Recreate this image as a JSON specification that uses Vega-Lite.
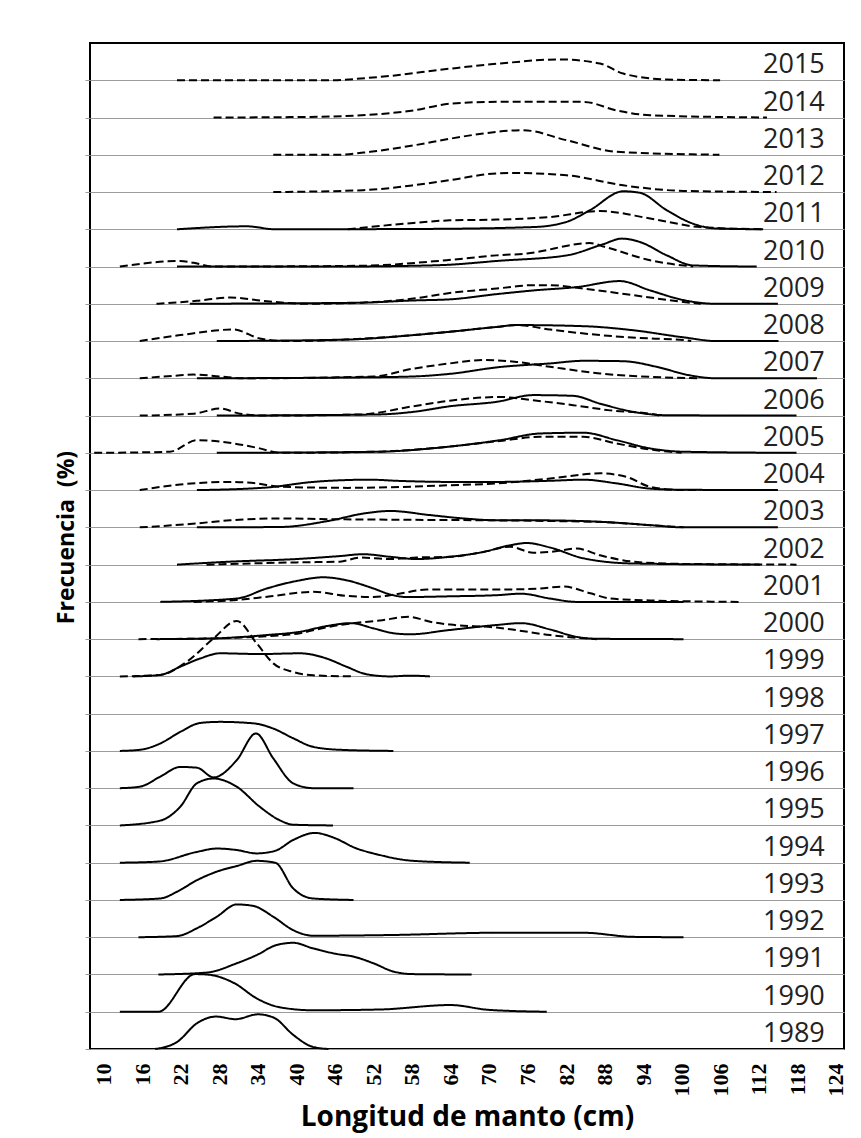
{
"$schema":"https://vega.github.io/schema/vega-lite/v6.json",
"width":754,"height":1006,
"autosize":"none",
"padding":{"left":90,"top":43,"right":17,"bottom":89},
"background":"white",
"config":{"view":{"stroke":"black","strokeWidth":2},"font":"Open Sans"},
"encoding":{
"y":{"field":"anio","type":"ordinal","scale":{"type":"point","padding":0,"domain":[2016,2015,2014,2013,2012,2011,2010,2009,2008,2007,2006,2005,2004,2003,2002,2001,2000,1999,1998,1997,1996,1995,1994,1993,1992,1991,1990,1989]},
"axis":{"values":[2015,2014,2013,2012,2011,2010,2009,2008,2007,2006,2005,2004,2003,2002,2001,2000,1999,1998,1997,1996,1995,1994,1993,1992,1991,1990,1989],"labels":false,"ticks":true,"tickSize":5,"tickColor":"#999999","domain":false,"grid":true,"gridColor":"#9c9c9c","gridWidth":1,"title":"Frecuencia\u00a0 (%)","titleFont":"Open Sans","titleFontWeight":"bold","titleFontSize":23,"titleColor":"black","titlePadding":6,"titleY":494}}
},
"layer":[
{
"data":{"values":[
{"anio":1989,"serie":"continua","longitud":18,"frecuencia":0},{"anio":1989,"serie":"continua","longitud":21.5,"frecuencia":2.0},{"anio":1989,"serie":"continua","longitud":24.5,"frecuencia":6.9},{"anio":1989,"serie":"continua","longitud":27.5,"frecuencia":8.7},{"anio":1989,"serie":"continua","longitud":30.5,"frecuencia":8.0},{"anio":1989,"serie":"continua","longitud":34,"frecuencia":9.3},{"anio":1989,"serie":"continua","longitud":36.5,"frecuencia":8.4},{"anio":1989,"serie":"continua","longitud":39.5,"frecuencia":3.8},{"anio":1989,"serie":"continua","longitud":42.5,"frecuencia":0.6},{"anio":1989,"serie":"continua","longitud":45,"frecuencia":0},
{"anio":1990,"serie":"continua","longitud":12.5,"frecuencia":0},{"anio":1990,"serie":"continua","longitud":18.5,"frecuencia":0},{"anio":1990,"serie":"continua","longitud":24.2,"frecuencia":10.1},{"anio":1990,"serie":"continua","longitud":26,"frecuencia":10.0},{"anio":1990,"serie":"continua","longitud":30.4,"frecuencia":7.6},{"anio":1990,"serie":"continua","longitud":33.8,"frecuencia":3.6},{"anio":1990,"serie":"continua","longitud":37.4,"frecuencia":1.2},{"anio":1990,"serie":"continua","longitud":42.6,"frecuencia":0.4},{"anio":1990,"serie":"continua","longitud":53,"frecuencia":0.6},{"anio":1990,"serie":"continua","longitud":64,"frecuencia":1.8},{"anio":1990,"serie":"continua","longitud":70,"frecuencia":0.5},{"anio":1990,"serie":"continua","longitud":79,"frecuencia":0},
{"anio":1991,"serie":"continua","longitud":18.5,"frecuencia":0},{"anio":1991,"serie":"continua","longitud":26,"frecuencia":0.5},{"anio":1991,"serie":"continua","longitud":30.7,"frecuencia":3.0},{"anio":1991,"serie":"continua","longitud":33.8,"frecuencia":5.2},{"anio":1991,"serie":"continua","longitud":36.9,"frecuencia":7.9},{"anio":1991,"serie":"continua","longitud":39.5,"frecuencia":8.5},{"anio":1991,"serie":"continua","longitud":42.6,"frecuencia":7.0},{"anio":1991,"serie":"continua","longitud":46.3,"frecuencia":5.5},{"anio":1991,"serie":"continua","longitud":48.9,"frecuencia":4.8},{"anio":1991,"serie":"continua","longitud":52,"frecuencia":3.0},{"anio":1991,"serie":"continua","longitud":55.1,"frecuencia":0.8},{"anio":1991,"serie":"continua","longitud":58.2,"frecuencia":0.1},{"anio":1991,"serie":"continua","longitud":67.3,"frecuencia":0},
{"anio":1992,"serie":"continua","longitud":15.4,"frecuencia":0},{"anio":1992,"serie":"continua","longitud":21.4,"frecuencia":0.3},{"anio":1992,"serie":"continua","longitud":24.5,"frecuencia":2.4},{"anio":1992,"serie":"continua","longitud":27.6,"frecuencia":5.5},{"anio":1992,"serie":"continua","longitud":30.7,"frecuencia":8.8},{"anio":1992,"serie":"continua","longitud":33.3,"frecuencia":8.4},{"anio":1992,"serie":"continua","longitud":36.4,"frecuencia":5.5},{"anio":1992,"serie":"continua","longitud":39.5,"frecuencia":1.9},{"anio":1992,"serie":"continua","longitud":42.6,"frecuencia":0.4},{"anio":1992,"serie":"continua","longitud":55,"frecuencia":0.6},{"anio":1992,"serie":"continua","longitud":71.2,"frecuencia":1.2},{"anio":1992,"serie":"continua","longitud":84.7,"frecuencia":1.2},{"anio":1992,"serie":"continua","longitud":92.5,"frecuencia":0.1},{"anio":1992,"serie":"continua","longitud":100.3,"frecuencia":0},
{"anio":1993,"serie":"continua","longitud":12.5,"frecuencia":0},{"anio":1993,"serie":"continua","longitud":18.8,"frecuencia":0.4},{"anio":1993,"serie":"continua","longitud":21.4,"frecuencia":2.2},{"anio":1993,"serie":"continua","longitud":24.5,"frecuencia":5.3},{"anio":1993,"serie":"continua","longitud":27.6,"frecuencia":7.6},{"anio":1993,"serie":"continua","longitud":30.7,"frecuencia":9.1},{"anio":1993,"serie":"continua","longitud":33.8,"frecuencia":10.5},{"anio":1993,"serie":"continua","longitud":36.7,"frecuencia":10.0},{"anio":1993,"serie":"continua","longitud":39.5,"frecuencia":3.1},{"anio":1993,"serie":"continua","longitud":42.6,"frecuencia":0.4},{"anio":1993,"serie":"continua","longitud":48.9,"frecuencia":0},
{"anio":1994,"serie":"continua","longitud":12.5,"frecuencia":0},{"anio":1994,"serie":"continua","longitud":18.5,"frecuencia":0.3},{"anio":1994,"serie":"continua","longitud":24.5,"frecuencia":2.9},{"anio":1994,"serie":"continua","longitud":27.6,"frecuencia":3.8},{"anio":1994,"serie":"continua","longitud":30.7,"frecuencia":3.4},{"anio":1994,"serie":"continua","longitud":33.8,"frecuencia":2.5},{"anio":1994,"serie":"continua","longitud":36.7,"frecuencia":3.2},{"anio":1994,"serie":"continua","longitud":39.5,"frecuencia":6.1},{"anio":1994,"serie":"continua","longitud":42.9,"frecuencia":8.0},{"anio":1994,"serie":"continua","longitud":45.7,"frecuencia":6.8},{"anio":1994,"serie":"continua","longitud":49.4,"frecuencia":3.8},{"anio":1994,"serie":"continua","longitud":52,"frecuencia":2.5},{"anio":1994,"serie":"continua","longitud":58.2,"frecuencia":0.5},{"anio":1994,"serie":"continua","longitud":67,"frecuencia":0},
{"anio":1995,"serie":"continua","longitud":12.5,"frecuencia":0},{"anio":1995,"serie":"continua","longitud":18.8,"frecuencia":1.3},{"anio":1995,"serie":"continua","longitud":21.9,"frecuencia":5.0},{"anio":1995,"serie":"continua","longitud":24.5,"frecuencia":11.3},{"anio":1995,"serie":"continua","longitud":27.1,"frecuencia":12.6},{"anio":1995,"serie":"continua","longitud":30.7,"frecuencia":10.4},{"anio":1995,"serie":"continua","longitud":34.3,"frecuencia":5.0},{"anio":1995,"serie":"continua","longitud":37.4,"frecuencia":1.4},{"anio":1995,"serie":"continua","longitud":39.5,"frecuencia":0.2},{"anio":1995,"serie":"continua","longitud":45.7,"frecuencia":0},
{"anio":1996,"serie":"continua","longitud":12.5,"frecuencia":0},{"anio":1996,"serie":"continua","longitud":15.6,"frecuencia":0.4},{"anio":1996,"serie":"continua","longitud":18.8,"frecuencia":3.1},{"anio":1996,"serie":"continua","longitud":21.9,"frecuencia":5.7},{"anio":1996,"serie":"continua","longitud":24.5,"frecuencia":5.5},{"anio":1996,"serie":"continua","longitud":27.1,"frecuencia":2.9},{"anio":1996,"serie":"continua","longitud":30.7,"frecuencia":7.5},{"anio":1996,"serie":"continua","longitud":33.7,"frecuencia":14.7},{"anio":1996,"serie":"continua","longitud":36.4,"frecuencia":8.0},{"anio":1996,"serie":"continua","longitud":39.5,"frecuencia":1.3},{"anio":1996,"serie":"continua","longitud":42.6,"frecuencia":0},{"anio":1996,"serie":"continua","longitud":48.9,"frecuencia":0},
{"anio":1997,"serie":"continua","longitud":12.5,"frecuencia":0},{"anio":1997,"serie":"continua","longitud":15.6,"frecuencia":0.3},{"anio":1997,"serie":"continua","longitud":18.8,"frecuencia":2.0},{"anio":1997,"serie":"continua","longitud":21.9,"frecuencia":5.1},{"anio":1997,"serie":"continua","longitud":25,"frecuencia":7.5},{"anio":1997,"serie":"continua","longitud":28.1,"frecuencia":7.8},{"anio":1997,"serie":"continua","longitud":33.3,"frecuencia":7.4},{"anio":1997,"serie":"continua","longitud":36.4,"frecuencia":6.0},{"anio":1997,"serie":"continua","longitud":39.5,"frecuencia":3.4},{"anio":1997,"serie":"continua","longitud":42.6,"frecuencia":1.1},{"anio":1997,"serie":"continua","longitud":46.8,"frecuencia":0.3},{"anio":1997,"serie":"continua","longitud":55.1,"frecuencia":0},
{"anio":1999,"serie":"continua","longitud":14.6,"frecuencia":0},{"anio":1999,"serie":"continua","longitud":18.8,"frecuencia":0.4},{"anio":1999,"serie":"continua","longitud":21.9,"frecuencia":2.6},{"anio":1999,"serie":"continua","longitud":25,"frecuencia":4.8},{"anio":1999,"serie":"continua","longitud":28.1,"frecuencia":6.2},{"anio":1999,"serie":"continua","longitud":34.3,"frecuencia":6.0},{"anio":1999,"serie":"continua","longitud":40.6,"frecuencia":6.2},{"anio":1999,"serie":"continua","longitud":44.7,"frecuencia":4.8},{"anio":1999,"serie":"continua","longitud":47.8,"frecuencia":2.6},{"anio":1999,"serie":"continua","longitud":50.9,"frecuencia":0.6},{"anio":1999,"serie":"continua","longitud":54.6,"frecuencia":0},{"anio":1999,"serie":"continua","longitud":57.7,"frecuencia":0.2},{"anio":1999,"serie":"continua","longitud":60.8,"frecuencia":0},
{"anio":1999,"serie":"discontinua","longitud":12.5,"frecuencia":0},{"anio":1999,"serie":"discontinua","longitud":18.8,"frecuencia":0.4},{"anio":1999,"serie":"discontinua","longitud":22.9,"frecuencia":3.9},{"anio":1999,"serie":"discontinua","longitud":27.1,"frecuencia":10.2},{"anio":1999,"serie":"discontinua","longitud":30.7,"frecuencia":14.9},{"anio":1999,"serie":"discontinua","longitud":33.8,"frecuencia":8.9},{"anio":1999,"serie":"discontinua","longitud":36.4,"frecuencia":3.5},{"anio":1999,"serie":"discontinua","longitud":39.5,"frecuencia":1.2},{"anio":1999,"serie":"discontinua","longitud":42.6,"frecuencia":0.3},{"anio":1999,"serie":"discontinua","longitud":48.9,"frecuencia":0},
{"anio":2000,"serie":"continua","longitud":18.2,"frecuencia":0},{"anio":2000,"serie":"continua","longitud":27.1,"frecuencia":0.2},{"anio":2000,"serie":"continua","longitud":35.4,"frecuencia":1.1},{"anio":2000,"serie":"continua","longitud":40.6,"frecuencia":2.0},{"anio":2000,"serie":"continua","longitud":44.7,"frecuencia":3.5},{"anio":2000,"serie":"continua","longitud":48.5,"frecuencia":4.3},{"anio":2000,"serie":"continua","longitud":52,"frecuencia":2.9},{"anio":2000,"serie":"continua","longitud":55.1,"frecuencia":1.6},{"anio":2000,"serie":"continua","longitud":57.7,"frecuencia":1.3},{"anio":2000,"serie":"continua","longitud":63.6,"frecuencia":2.4},{"anio":2000,"serie":"continua","longitud":71.2,"frecuencia":3.8},{"anio":2000,"serie":"continua","longitud":75,"frecuencia":4.3},{"anio":2000,"serie":"continua","longitud":79.5,"frecuencia":2.6},{"anio":2000,"serie":"continua","longitud":83.7,"frecuencia":0.6},{"anio":2000,"serie":"continua","longitud":86.8,"frecuencia":0.1},{"anio":2000,"serie":"continua","longitud":100.3,"frecuencia":0},
{"anio":2000,"serie":"discontinua","longitud":15.4,"frecuencia":0},{"anio":2000,"serie":"discontinua","longitud":27,"frecuencia":0.2},{"anio":2000,"serie":"discontinua","longitud":35.4,"frecuencia":0.8},{"anio":2000,"serie":"discontinua","longitud":40.6,"frecuencia":1.6},{"anio":2000,"serie":"discontinua","longitud":44.7,"frecuencia":3.2},{"anio":2000,"serie":"discontinua","longitud":48.9,"frecuencia":4.3},{"anio":2000,"serie":"discontinua","longitud":53,"frecuencia":5.0},{"anio":2000,"serie":"discontinua","longitud":57.5,"frecuencia":6.0},{"anio":2000,"serie":"discontinua","longitud":61,"frecuencia":4.6},{"anio":2000,"serie":"discontinua","longitud":64,"frecuencia":3.9},{"anio":2000,"serie":"discontinua","longitud":71.2,"frecuencia":3.1},{"anio":2000,"serie":"discontinua","longitud":74.3,"frecuencia":2.4},{"anio":2000,"serie":"discontinua","longitud":79.5,"frecuencia":1.1},{"anio":2000,"serie":"discontinua","longitud":85.8,"frecuencia":0.1},{"anio":2000,"serie":"discontinua","longitud":86.8,"frecuencia":0},
{"anio":2001,"serie":"continua","longitud":18.8,"frecuencia":0},{"anio":2001,"serie":"continua","longitud":30.7,"frecuencia":0.9},{"anio":2001,"serie":"continua","longitud":35.4,"frecuencia":3.6},{"anio":2001,"serie":"continua","longitud":40,"frecuencia":5.6},{"anio":2001,"serie":"continua","longitud":44.2,"frecuencia":6.6},{"anio":2001,"serie":"continua","longitud":47.8,"frecuencia":5.8},{"anio":2001,"serie":"continua","longitud":52,"frecuencia":3.6},{"anio":2001,"serie":"continua","longitud":54.6,"frecuencia":2.0},{"anio":2001,"serie":"continua","longitud":57.2,"frecuencia":1.3},{"anio":2001,"serie":"continua","longitud":64,"frecuencia":1.5},{"anio":2001,"serie":"continua","longitud":71.2,"frecuencia":1.8},{"anio":2001,"serie":"continua","longitud":75,"frecuencia":2.2},{"anio":2001,"serie":"continua","longitud":79.5,"frecuencia":0.9},{"anio":2001,"serie":"continua","longitud":83.7,"frecuencia":0},{"anio":2001,"serie":"continua","longitud":100.3,"frecuencia":0},
{"anio":2001,"serie":"discontinua","longitud":24,"frecuencia":0},{"anio":2001,"serie":"discontinua","longitud":30.7,"frecuencia":0.5},{"anio":2001,"serie":"discontinua","longitud":36,"frecuencia":1.5},{"anio":2001,"serie":"discontinua","longitud":42.6,"frecuencia":2.7},{"anio":2001,"serie":"discontinua","longitud":47.8,"frecuencia":1.6},{"anio":2001,"serie":"discontinua","longitud":52,"frecuencia":1.3},{"anio":2001,"serie":"discontinua","longitud":56,"frecuencia":2.2},{"anio":2001,"serie":"discontinua","longitud":60.3,"frecuencia":3.3},{"anio":2001,"serie":"discontinua","longitud":71.2,"frecuencia":3.3},{"anio":2001,"serie":"discontinua","longitud":78,"frecuencia":3.6},{"anio":2001,"serie":"discontinua","longitud":81.6,"frecuencia":4.1},{"anio":2001,"serie":"discontinua","longitud":85.8,"frecuencia":2.3},{"anio":2001,"serie":"discontinua","longitud":88.9,"frecuencia":0.9},{"anio":2001,"serie":"discontinua","longitud":95.1,"frecuencia":0.4},{"anio":2001,"serie":"discontinua","longitud":109,"frecuencia":0},
{"anio":2002,"serie":"continua","longitud":21.4,"frecuencia":0},{"anio":2002,"serie":"continua","longitud":29.7,"frecuencia":0.8},{"anio":2002,"serie":"continua","longitud":40,"frecuencia":1.5},{"anio":2002,"serie":"continua","longitud":46.8,"frecuencia":2.3},{"anio":2002,"serie":"continua","longitud":50.4,"frecuencia":2.8},{"anio":2002,"serie":"continua","longitud":54.6,"frecuencia":2.1},{"anio":2002,"serie":"continua","longitud":58.7,"frecuencia":1.5},{"anio":2002,"serie":"continua","longitud":63.9,"frecuencia":2.1},{"anio":2002,"serie":"continua","longitud":69.1,"frecuencia":3.4},{"anio":2002,"serie":"continua","longitud":73.3,"frecuencia":5.2},{"anio":2002,"serie":"continua","longitud":75.9,"frecuencia":5.8},{"anio":2002,"serie":"continua","longitud":79.5,"frecuencia":4.6},{"anio":2002,"serie":"continua","longitud":84.7,"frecuencia":1.7},{"anio":2002,"serie":"continua","longitud":92.5,"frecuencia":0.3},{"anio":2002,"serie":"continua","longitud":112.2,"frecuencia":0},
{"anio":2002,"serie":"discontinua","longitud":26,"frecuencia":0},{"anio":2002,"serie":"discontinua","longitud":40,"frecuencia":0.6},{"anio":2002,"serie":"discontinua","longitud":46.8,"frecuencia":0.8},{"anio":2002,"serie":"discontinua","longitud":49.9,"frecuencia":1.9},{"anio":2002,"serie":"discontinua","longitud":54.6,"frecuencia":1.5},{"anio":2002,"serie":"discontinua","longitud":58.7,"frecuencia":1.9},{"anio":2002,"serie":"discontinua","longitud":63.9,"frecuencia":2.1},{"anio":2002,"serie":"discontinua","longitud":69.1,"frecuencia":3.4},{"anio":2002,"serie":"discontinua","longitud":73.3,"frecuencia":4.8},{"anio":2002,"serie":"discontinua","longitud":76.9,"frecuencia":3.2},{"anio":2002,"serie":"discontinua","longitud":79.5,"frecuencia":3.4},{"anio":2002,"serie":"discontinua","longitud":83.7,"frecuencia":4.3},{"anio":2002,"serie":"discontinua","longitud":87.3,"frecuencia":2.5},{"anio":2002,"serie":"discontinua","longitud":92.5,"frecuencia":0.8},{"anio":2002,"serie":"discontinua","longitud":100,"frecuencia":0.2},{"anio":2002,"serie":"discontinua","longitud":117.9,"frecuencia":0},
{"anio":2003,"serie":"continua","longitud":24.5,"frecuencia":0},{"anio":2003,"serie":"continua","longitud":37.4,"frecuencia":0.1},{"anio":2003,"serie":"continua","longitud":45.2,"frecuencia":1.8},{"anio":2003,"serie":"continua","longitud":50.4,"frecuencia":3.7},{"anio":2003,"serie":"continua","longitud":54.6,"frecuencia":4.4},{"anio":2003,"serie":"continua","longitud":60.8,"frecuencia":3.3},{"anio":2003,"serie":"continua","longitud":66,"frecuencia":2.4},{"anio":2003,"serie":"continua","longitud":71.2,"frecuencia":1.9},{"anio":2003,"serie":"continua","longitud":77,"frecuencia":1.9},{"anio":2003,"serie":"continua","longitud":87.3,"frecuencia":1.5},{"anio":2003,"serie":"continua","longitud":95.1,"frecuencia":0.6},{"anio":2003,"serie":"continua","longitud":100.3,"frecuencia":0},{"anio":2003,"serie":"continua","longitud":115,"frecuencia":0},
{"anio":2003,"serie":"discontinua","longitud":15.6,"frecuencia":0},{"anio":2003,"serie":"discontinua","longitud":23.4,"frecuencia":0.9},{"anio":2003,"serie":"discontinua","longitud":29.7,"frecuencia":1.9},{"anio":2003,"serie":"discontinua","longitud":37.4,"frecuencia":2.4},{"anio":2003,"serie":"discontinua","longitud":45,"frecuencia":2.2},{"anio":2003,"serie":"discontinua","longitud":52,"frecuencia":2.1},{"anio":2003,"serie":"discontinua","longitud":60,"frecuencia":2.0},{"anio":2003,"serie":"discontinua","longitud":70,"frecuencia":1.9},{"anio":2003,"serie":"discontinua","longitud":80,"frecuencia":1.7},{"anio":2003,"serie":"discontinua","longitud":88,"frecuencia":1.4},{"anio":2003,"serie":"discontinua","longitud":95.1,"frecuencia":0.6},{"anio":2003,"serie":"discontinua","longitud":100.3,"frecuencia":0},
{"anio":2004,"serie":"continua","longitud":24.5,"frecuencia":0},{"anio":2004,"serie":"continua","longitud":35.4,"frecuencia":0.7},{"anio":2004,"serie":"continua","longitud":42.6,"frecuencia":2.2},{"anio":2004,"serie":"continua","longitud":51.5,"frecuencia":2.8},{"anio":2004,"serie":"continua","longitud":55.6,"frecuencia":2.5},{"anio":2004,"serie":"continua","longitud":63.9,"frecuencia":2.2},{"anio":2004,"serie":"continua","longitud":71.2,"frecuencia":2.2},{"anio":2004,"serie":"continua","longitud":79.5,"frecuencia":2.5},{"anio":2004,"serie":"continua","longitud":84.7,"frecuencia":2.8},{"anio":2004,"serie":"continua","longitud":89.9,"frecuencia":1.8},{"anio":2004,"serie":"continua","longitud":95.1,"frecuencia":0.4},{"anio":2004,"serie":"continua","longitud":100,"frecuencia":0.1},{"anio":2004,"serie":"continua","longitud":115,"frecuencia":0},
{"anio":2004,"serie":"discontinua","longitud":15.6,"frecuencia":0},{"anio":2004,"serie":"discontinua","longitud":21.9,"frecuencia":1.5},{"anio":2004,"serie":"discontinua","longitud":29.7,"frecuencia":2.2},{"anio":2004,"serie":"discontinua","longitud":33.8,"frecuencia":1.8},{"anio":2004,"serie":"discontinua","longitud":37.4,"frecuencia":0.9},{"anio":2004,"serie":"discontinua","longitud":48,"frecuencia":0.6},{"anio":2004,"serie":"discontinua","longitud":63.9,"frecuencia":1.3},{"anio":2004,"serie":"discontinua","longitud":71.2,"frecuencia":1.8},{"anio":2004,"serie":"discontinua","longitud":79.5,"frecuencia":3.1},{"anio":2004,"serie":"discontinua","longitud":87.3,"frecuencia":4.5},{"anio":2004,"serie":"discontinua","longitud":91.5,"frecuencia":3.5},{"anio":2004,"serie":"discontinua","longitud":95.1,"frecuencia":0.9},{"anio":2004,"serie":"discontinua","longitud":100.3,"frecuencia":0},{"anio":2004,"serie":"discontinua","longitud":103,"frecuencia":0},
{"anio":2005,"serie":"continua","longitud":27.6,"frecuencia":0},{"anio":2005,"serie":"continua","longitud":52.6,"frecuencia":0.3},{"anio":2005,"serie":"continua","longitud":63.4,"frecuencia":1.6},{"anio":2005,"serie":"continua","longitud":71.7,"frecuencia":3.4},{"anio":2005,"serie":"continua","longitud":78,"frecuencia":5.2},{"anio":2005,"serie":"continua","longitud":84.7,"frecuencia":5.4},{"anio":2005,"serie":"continua","longitud":89.9,"frecuencia":3.4},{"anio":2005,"serie":"continua","longitud":95.1,"frecuencia":1.2},{"anio":2005,"serie":"continua","longitud":100.3,"frecuencia":0.3},{"anio":2005,"serie":"continua","longitud":117.9,"frecuencia":0},
{"anio":2005,"serie":"discontinua","longitud":8.5,"frecuencia":0},{"anio":2005,"serie":"discontinua","longitud":20.3,"frecuencia":0.3},{"anio":2005,"serie":"discontinua","longitud":24.5,"frecuencia":3.4},{"anio":2005,"serie":"discontinua","longitud":28.1,"frecuencia":3.0},{"anio":2005,"serie":"discontinua","longitud":34.3,"frecuencia":1.2},{"anio":2005,"serie":"discontinua","longitud":37.4,"frecuencia":0},{"anio":2005,"serie":"discontinua","longitud":52.6,"frecuencia":0.3},{"anio":2005,"serie":"discontinua","longitud":63.4,"frecuencia":1.6},{"anio":2005,"serie":"discontinua","longitud":71.7,"frecuencia":3.2},{"anio":2005,"serie":"discontinua","longitud":78,"frecuencia":4.3},{"anio":2005,"serie":"discontinua","longitud":84.7,"frecuencia":4.3},{"anio":2005,"serie":"discontinua","longitud":89.9,"frecuencia":2.5},{"anio":2005,"serie":"discontinua","longitud":95.1,"frecuencia":0.9},{"anio":2005,"serie":"discontinua","longitud":98.2,"frecuencia":0.3},{"anio":2005,"serie":"discontinua","longitud":100,"frecuencia":0},
{"anio":2006,"serie":"continua","longitud":27.6,"frecuencia":0},{"anio":2006,"serie":"continua","longitud":52.6,"frecuencia":0.3},{"anio":2006,"serie":"continua","longitud":58.2,"frecuencia":1.0},{"anio":2006,"serie":"continua","longitud":63.9,"frecuencia":2.5},{"anio":2006,"serie":"continua","longitud":71.2,"frecuencia":3.7},{"anio":2006,"serie":"continua","longitud":76.9,"frecuencia":5.5},{"anio":2006,"serie":"continua","longitud":83.1,"frecuencia":5.3},{"anio":2006,"serie":"continua","longitud":87.3,"frecuencia":3.2},{"anio":2006,"serie":"continua","longitud":92.5,"frecuencia":1.0},{"anio":2006,"serie":"continua","longitud":97.7,"frecuencia":0.1},{"anio":2006,"serie":"continua","longitud":117.9,"frecuencia":0},
{"anio":2006,"serie":"discontinua","longitud":15.6,"frecuencia":0},{"anio":2006,"serie":"discontinua","longitud":24,"frecuencia":0.5},{"anio":2006,"serie":"discontinua","longitud":28.1,"frecuencia":1.9},{"anio":2006,"serie":"discontinua","longitud":31.2,"frecuencia":0.5},{"anio":2006,"serie":"discontinua","longitud":35,"frecuencia":0},{"anio":2006,"serie":"discontinua","longitud":50,"frecuencia":0.3},{"anio":2006,"serie":"discontinua","longitud":58.2,"frecuencia":2.5},{"anio":2006,"serie":"discontinua","longitud":63.9,"frecuencia":4.0},{"anio":2006,"serie":"discontinua","longitud":71.7,"frecuencia":5.0},{"anio":2006,"serie":"discontinua","longitud":76.9,"frecuencia":4.1},{"anio":2006,"serie":"discontinua","longitud":83.1,"frecuencia":2.8},{"anio":2006,"serie":"discontinua","longitud":88.9,"frecuencia":1.4},{"anio":2006,"serie":"discontinua","longitud":95.1,"frecuencia":0.5},{"anio":2006,"serie":"discontinua","longitud":96.5,"frecuencia":0},
{"anio":2007,"serie":"continua","longitud":24.5,"frecuencia":0},{"anio":2007,"serie":"continua","longitud":52,"frecuencia":0.3},{"anio":2007,"serie":"continua","longitud":58.2,"frecuencia":0.5},{"anio":2007,"serie":"continua","longitud":63.9,"frecuencia":1.2},{"anio":2007,"serie":"continua","longitud":71.5,"frecuencia":3.0},{"anio":2007,"serie":"continua","longitud":79.5,"frecuencia":4.0},{"anio":2007,"serie":"continua","longitud":84.7,"frecuencia":4.7},{"anio":2007,"serie":"continua","longitud":90.9,"frecuencia":4.6},{"anio":2007,"serie":"continua","longitud":96.1,"frecuencia":3.1},{"anio":2007,"serie":"continua","longitud":101.3,"frecuencia":0.8},{"anio":2007,"serie":"continua","longitud":105.5,"frecuencia":0},{"anio":2007,"serie":"continua","longitud":121.1,"frecuencia":0},
{"anio":2007,"serie":"discontinua","longitud":15.6,"frecuencia":0},{"anio":2007,"serie":"discontinua","longitud":21.9,"frecuencia":0.8},{"anio":2007,"serie":"discontinua","longitud":24,"frecuencia":1.0},{"anio":2007,"serie":"discontinua","longitud":28.1,"frecuencia":0.5},{"anio":2007,"serie":"discontinua","longitud":32,"frecuencia":0},{"anio":2007,"serie":"discontinua","longitud":52,"frecuencia":0.5},{"anio":2007,"serie":"discontinua","longitud":58.2,"frecuencia":2.6},{"anio":2007,"serie":"discontinua","longitud":63.9,"frecuencia":4.0},{"anio":2007,"serie":"discontinua","longitud":69.1,"frecuencia":4.9},{"anio":2007,"serie":"discontinua","longitud":74.3,"frecuencia":4.4},{"anio":2007,"serie":"discontinua","longitud":79.5,"frecuencia":3.1},{"anio":2007,"serie":"discontinua","longitud":87.3,"frecuencia":1.3},{"anio":2007,"serie":"discontinua","longitud":95.1,"frecuencia":0.4},{"anio":2007,"serie":"discontinua","longitud":103,"frecuencia":0},
{"anio":2008,"serie":"continua","longitud":27.6,"frecuencia":0},{"anio":2008,"serie":"continua","longitud":47.8,"frecuencia":0.4},{"anio":2008,"serie":"continua","longitud":58.2,"frecuencia":1.6},{"anio":2008,"serie":"continua","longitud":63.9,"frecuencia":2.5},{"anio":2008,"serie":"continua","longitud":71.2,"frecuencia":3.8},{"anio":2008,"serie":"continua","longitud":74.3,"frecuencia":4.3},{"anio":2008,"serie":"continua","longitud":84.7,"frecuencia":4.0},{"anio":2008,"serie":"continua","longitud":92.5,"frecuencia":2.9},{"anio":2008,"serie":"continua","longitud":100.3,"frecuencia":1.0},{"anio":2008,"serie":"continua","longitud":105.5,"frecuencia":0},{"anio":2008,"serie":"continua","longitud":115.1,"frecuencia":0},
{"anio":2008,"serie":"discontinua","longitud":15.6,"frecuencia":0},{"anio":2008,"serie":"discontinua","longitud":21.9,"frecuencia":1.6},{"anio":2008,"serie":"discontinua","longitud":30.2,"frecuencia":3.1},{"anio":2008,"serie":"discontinua","longitud":34.3,"frecuencia":0.7},{"anio":2008,"serie":"discontinua","longitud":38.4,"frecuencia":0},{"anio":2008,"serie":"discontinua","longitud":47.8,"frecuencia":0.4},{"anio":2008,"serie":"discontinua","longitud":58.2,"frecuencia":1.6},{"anio":2008,"serie":"discontinua","longitud":63.9,"frecuencia":2.5},{"anio":2008,"serie":"discontinua","longitud":71.2,"frecuencia":3.8},{"anio":2008,"serie":"discontinua","longitud":74.3,"frecuencia":4.3},{"anio":2008,"serie":"discontinua","longitud":79.5,"frecuencia":3.1},{"anio":2008,"serie":"discontinua","longitud":87.3,"frecuencia":1.6},{"anio":2008,"serie":"discontinua","longitud":95.1,"frecuencia":0.7},{"anio":2008,"serie":"discontinua","longitud":100.3,"frecuencia":0.3},{"anio":2008,"serie":"discontinua","longitud":101.5,"frecuencia":0},
{"anio":2009,"serie":"continua","longitud":23.4,"frecuencia":0},{"anio":2009,"serie":"continua","longitud":35,"frecuencia":0.1},{"anio":2009,"serie":"continua","longitud":50,"frecuencia":0.3},{"anio":2009,"serie":"continua","longitud":58.2,"frecuencia":0.9},{"anio":2009,"serie":"continua","longitud":63.9,"frecuencia":1.2},{"anio":2009,"serie":"continua","longitud":71.2,"frecuencia":2.6},{"anio":2009,"serie":"continua","longitud":77,"frecuencia":3.6},{"anio":2009,"serie":"continua","longitud":83.7,"frecuencia":4.5},{"anio":2009,"serie":"continua","longitud":90.4,"frecuencia":6.1},{"anio":2009,"serie":"continua","longitud":95.1,"frecuencia":3.6},{"anio":2009,"serie":"continua","longitud":100.3,"frecuencia":1.0},{"anio":2009,"serie":"continua","longitud":105.5,"frecuencia":0},{"anio":2009,"serie":"continua","longitud":115,"frecuencia":0},
{"anio":2009,"serie":"discontinua","longitud":18.2,"frecuencia":0},{"anio":2009,"serie":"discontinua","longitud":24.5,"frecuencia":0.8},{"anio":2009,"serie":"discontinua","longitud":29.7,"frecuencia":1.7},{"anio":2009,"serie":"discontinua","longitud":34.8,"frecuencia":0.8},{"anio":2009,"serie":"discontinua","longitud":42,"frecuencia":0},{"anio":2009,"serie":"discontinua","longitud":50,"frecuencia":0.3},{"anio":2009,"serie":"discontinua","longitud":58.2,"frecuencia":1.4},{"anio":2009,"serie":"discontinua","longitud":63.9,"frecuencia":2.9},{"anio":2009,"serie":"discontinua","longitud":71.2,"frecuencia":4.1},{"anio":2009,"serie":"discontinua","longitud":76.9,"frecuencia":5.0},{"anio":2009,"serie":"discontinua","longitud":79.5,"frecuencia":5.0},{"anio":2009,"serie":"discontinua","longitud":84.7,"frecuencia":4.1},{"anio":2009,"serie":"discontinua","longitud":92.5,"frecuencia":2.3},{"anio":2009,"serie":"discontinua","longitud":100.3,"frecuencia":0.5},{"anio":2009,"serie":"discontinua","longitud":103,"frecuencia":0},
{"anio":2010,"serie":"continua","longitud":21.4,"frecuencia":0},{"anio":2010,"serie":"continua","longitud":45,"frecuencia":0},{"anio":2010,"serie":"continua","longitud":58,"frecuencia":0.2},{"anio":2010,"serie":"continua","longitud":63.9,"frecuencia":0.5},{"anio":2010,"serie":"continua","longitud":71.2,"frecuencia":1.5},{"anio":2010,"serie":"continua","longitud":82.1,"frecuencia":3.0},{"anio":2010,"serie":"continua","longitud":87.8,"frecuencia":6.0},{"anio":2010,"serie":"continua","longitud":90.7,"frecuencia":7.5},{"anio":2010,"serie":"continua","longitud":93.5,"frecuencia":6.6},{"anio":2010,"serie":"continua","longitud":97.7,"frecuencia":3.0},{"anio":2010,"serie":"continua","longitud":101.8,"frecuencia":0.3},{"anio":2010,"serie":"continua","longitud":111.7,"frecuencia":0},
{"anio":2010,"serie":"discontinua","longitud":12.5,"frecuencia":0},{"anio":2010,"serie":"discontinua","longitud":21.9,"frecuencia":1.5},{"anio":2010,"serie":"discontinua","longitud":24,"frecuencia":1.0},{"anio":2010,"serie":"discontinua","longitud":27,"frecuencia":0},{"anio":2010,"serie":"discontinua","longitud":50,"frecuencia":0.2},{"anio":2010,"serie":"discontinua","longitud":63.4,"frecuencia":1.7},{"anio":2010,"serie":"discontinua","longitud":71.2,"frecuencia":3.0},{"anio":2010,"serie":"discontinua","longitud":75.9,"frecuencia":3.5},{"anio":2010,"serie":"discontinua","longitud":85.7,"frecuencia":6.3},{"anio":2010,"serie":"discontinua","longitud":88,"frecuencia":5.3},{"anio":2010,"serie":"discontinua","longitud":95.1,"frecuencia":1.7},{"anio":2010,"serie":"discontinua","longitud":101.8,"frecuencia":0},
{"anio":2011,"serie":"continua","longitud":21.4,"frecuencia":0},{"anio":2011,"serie":"continua","longitud":32.3,"frecuencia":0.8},{"anio":2011,"serie":"continua","longitud":36.7,"frecuencia":0},{"anio":2011,"serie":"continua","longitud":60,"frecuencia":0.1},{"anio":2011,"serie":"continua","longitud":76.9,"frecuencia":0.6},{"anio":2011,"serie":"continua","longitud":82.1,"frecuencia":2.0},{"anio":2011,"serie":"continua","longitud":85.7,"frecuencia":5.1},{"anio":2011,"serie":"continua","longitud":90.9,"frecuencia":10.2},{"anio":2011,"serie":"continua","longitud":93.5,"frecuencia":9.8},{"anio":2011,"serie":"continua","longitud":97.7,"frecuencia":5.1},{"anio":2011,"serie":"continua","longitud":101.8,"frecuencia":1.5},{"anio":2011,"serie":"continua","longitud":105.5,"frecuencia":0.2},{"anio":2011,"serie":"continua","longitud":112.7,"frecuencia":0},
{"anio":2011,"serie":"discontinua","longitud":48,"frecuencia":0},{"anio":2011,"serie":"discontinua","longitud":58.2,"frecuencia":1.7},{"anio":2011,"serie":"discontinua","longitud":63.9,"frecuencia":2.4},{"anio":2011,"serie":"discontinua","longitud":71.2,"frecuencia":2.6},{"anio":2011,"serie":"discontinua","longitud":79.5,"frecuencia":3.3},{"anio":2011,"serie":"discontinua","longitud":87.3,"frecuencia":4.9},{"anio":2011,"serie":"discontinua","longitud":95.1,"frecuencia":2.9},{"anio":2011,"serie":"discontinua","longitud":102.9,"frecuencia":0.6},{"anio":2011,"serie":"discontinua","longitud":112.7,"frecuencia":0},
{"anio":2012,"serie":"discontinua","longitud":36.4,"frecuencia":0},{"anio":2012,"serie":"discontinua","longitud":50.4,"frecuencia":0.5},{"anio":2012,"serie":"discontinua","longitud":58.2,"frecuencia":1.8},{"anio":2012,"serie":"discontinua","longitud":63.9,"frecuencia":3.2},{"anio":2012,"serie":"discontinua","longitud":71.2,"frecuencia":5.0},{"anio":2012,"serie":"discontinua","longitud":74,"frecuencia":5.1},{"anio":2012,"serie":"discontinua","longitud":82.1,"frecuencia":4.5},{"anio":2012,"serie":"discontinua","longitud":90.9,"frecuencia":1.8},{"anio":2012,"serie":"discontinua","longitud":100.3,"frecuencia":0.3},{"anio":2012,"serie":"discontinua","longitud":114.8,"frecuencia":0},
{"anio":2013,"serie":"discontinua","longitud":36.4,"frecuencia":0},{"anio":2013,"serie":"discontinua","longitud":46.2,"frecuencia":0},{"anio":2013,"serie":"discontinua","longitud":51.5,"frecuencia":0.8},{"anio":2013,"serie":"discontinua","longitud":58.2,"frecuencia":2.5},{"anio":2013,"serie":"discontinua","longitud":63.9,"frecuencia":4.3},{"anio":2013,"serie":"discontinua","longitud":69.1,"frecuencia":5.7},{"anio":2013,"serie":"discontinua","longitud":75.3,"frecuencia":6.6},{"anio":2013,"serie":"discontinua","longitud":82.1,"frecuencia":3.9},{"anio":2013,"serie":"discontinua","longitud":89.9,"frecuencia":0.8},{"anio":2013,"serie":"discontinua","longitud":105.9,"frecuencia":0},
{"anio":2014,"serie":"discontinua","longitud":27.1,"frecuencia":0},{"anio":2014,"serie":"discontinua","longitud":43.5,"frecuencia":0.2},{"anio":2014,"serie":"discontinua","longitud":58.2,"frecuencia":1.9},{"anio":2014,"serie":"discontinua","longitud":63.9,"frecuencia":3.7},{"anio":2014,"serie":"discontinua","longitud":71.2,"frecuencia":4.2},{"anio":2014,"serie":"discontinua","longitud":78,"frecuencia":4.2},{"anio":2014,"serie":"discontinua","longitud":84.7,"frecuencia":4.2},{"anio":2014,"serie":"discontinua","longitud":89.9,"frecuencia":1.9},{"anio":2014,"serie":"discontinua","longitud":95.1,"frecuencia":0.6},{"anio":2014,"serie":"discontinua","longitud":113.3,"frecuencia":0},
{"anio":2015,"serie":"discontinua","longitud":21.4,"frecuencia":0},{"anio":2015,"serie":"discontinua","longitud":44.6,"frecuencia":0},{"anio":2015,"serie":"discontinua","longitud":53,"frecuencia":0.9},{"anio":2015,"serie":"discontinua","longitud":63.9,"frecuencia":3.1},{"anio":2015,"serie":"discontinua","longitud":71.7,"frecuencia":4.5},{"anio":2015,"serie":"discontinua","longitud":81,"frecuencia":5.6},{"anio":2015,"serie":"discontinua","longitud":87.3,"frecuencia":4.5},{"anio":2015,"serie":"discontinua","longitud":90.9,"frecuencia":1.8},{"anio":2015,"serie":"discontinua","longitud":97.7,"frecuencia":0.2},{"anio":2015,"serie":"discontinua","longitud":106,"frecuencia":0}
]},
"mark":{"type":"line","interpolate":"monotone","orient":"horizontal","color":"black","strokeWidth":2},
"encoding":{
"x":{"field":"longitud","type":"quantitative","scale":{"domain":[7.85,125.3],"nice":false,"zero":false},
"axis":{"values":[10,16,22,28,34,40,46,52,58,64,70,76,82,88,94,100,106,112,118,124],"labelAngle":-90,"labelFont":"Liberation Serif","labelFontWeight":"bold","labelFontSize":22,"labelColor":"black","labelPadding":14,"ticks":false,"domain":false,"grid":false,"title":"Longitud de manto (cm)","titleFont":"Open Sans","titleFontWeight":"bold","titleFontSize":28,"titleColor":"black","titlePadding":7}},
"yOffset":{"field":"frecuencia","type":"quantitative","scale":{"domain":[0,10],"range":[0,-37.26],"zero":true,"nice":false}},
"detail":{"field":"anio","type":"ordinal"},
"order":{"field":"longitud","type":"quantitative"},
"strokeDash":{"field":"serie","type":"nominal","scale":{"domain":["continua","discontinua"],"range":[[1,0],[8,4]]},"legend":null}
}
},
{
"data":{"values":[{"anio":2015},{"anio":2014},{"anio":2013},{"anio":2012},{"anio":2011},{"anio":2010},{"anio":2009},{"anio":2008},{"anio":2007},{"anio":2006},{"anio":2005},{"anio":2004},{"anio":2003},{"anio":2002},{"anio":2001},{"anio":2000},{"anio":1999},{"anio":1998},{"anio":1997},{"anio":1996},{"anio":1995},{"anio":1994},{"anio":1993},{"anio":1992},{"anio":1991},{"anio":1990},{"anio":1989}]},
"mark":{"type":"text","align":"center","baseline":"bottom","dy":-1,"font":"Open Sans","fontSize":27,"color":"#222222"},
"encoding":{
"x":{"datum":117.5,"type":"quantitative",
"axis":{"values":[10,16,22,28,34,40,46,52,58,64,70,76,82,88,94,100,106,112,118,124],"labelAngle":-90,"labelFont":"Liberation Serif","labelFontWeight":"bold","labelFontSize":22,"labelColor":"black","labelPadding":14,"ticks":false,"domain":false,"grid":false,"title":"Longitud de manto (cm)","titleFont":"Open Sans","titleFontWeight":"bold","titleFontSize":28,"titleColor":"black","titlePadding":7}},
"text":{"field":"anio","type":"nominal"}
}
}
]
}
